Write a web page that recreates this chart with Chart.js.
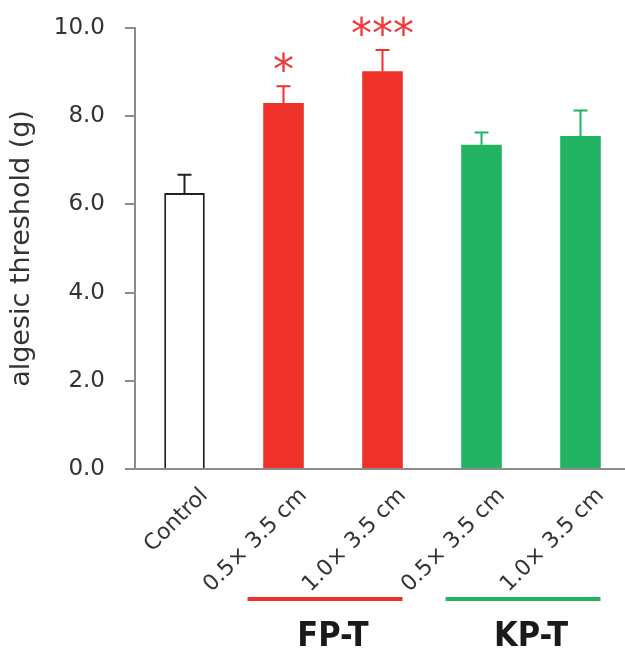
<!DOCTYPE html>
<html>
<head>
<meta charset="utf-8">
<script src="https://cdn.jsdelivr.net/npm/chart.js@4/dist/chart.umd.min.js"></script>
<style>
  html, body { margin: 0; padding: 0; background: #fff; overflow: hidden; }
  #wrap { width: 625px; height: 650px; overflow: hidden; }
</style>
</head>
<body>
<div id="wrap"><canvas id="chart" width="632" height="650"></canvas></div>
<script>
const categories = ['Control', '0.5\u00d7 3.5 cm', '1.0\u00d7 3.5 cm', '0.5\u00d7 3.5 cm', '1.0\u00d7 3.5 cm'];
const means = [6.26, 8.30, 9.02, 7.35, 7.55];
const errors = [0.41, 0.38, 0.48, 0.28, 0.58];
const stars = ['', '*', '***', '', ''];
const yTicks = [0, 2, 4, 6, 8, 10];

const groupNames = ['FP-T', 'KP-T'];
const groupFirst = [1, 3];
const groupLast = [2, 4];

const RED = '#ee3129';
const GREEN = '#22b363';
const barFill = ['#ffffff', RED, RED, GREEN, GREEN];
const barEdge = ['#222222', RED, RED, GREEN, GREEN];
const groupColors = [RED, GREEN];

const FONT = "'DejaVu Sans', sans-serif";

// error bars, significance stars and the group brackets under the axis
const extras = {
    id: 'extras',
    afterDatasetsDraw(chart) {
        const ctx = chart.ctx;
        const x = chart.scales.x;
        const y = chart.scales.y;
        ctx.save();
        for (let i = 0; i < means.length; i++) {
            const cx = x.getPixelForValue(i);
            const top = y.getPixelForValue(means[i]);
            const errTop = y.getPixelForValue(means[i] + errors[i]);
            ctx.strokeStyle = barEdge[i];
            ctx.lineWidth = 2;
            ctx.beginPath();
            ctx.moveTo(cx, top);
            ctx.lineTo(cx, errTop);
            ctx.moveTo(cx - 7, errTop);
            ctx.lineTo(cx + 7, errTop);
            ctx.stroke();

            if (stars[i]) {
                ctx.fillStyle = '#ef3b3b';
                ctx.font = '42px ' + FONT;
                ctx.textAlign = 'center';
                ctx.textBaseline = 'alphabetic';
                ctx.fillText(stars[i], cx, errTop - 2);
            }
        }

        for (let g = 0; g < groupNames.length; g++) {
            const a = x.getPixelForValue(groupFirst[g]);
            const b = x.getPixelForValue(groupLast[g]);
            ctx.strokeStyle = groupColors[g];
            ctx.lineWidth = 4;
            ctx.beginPath();
            ctx.moveTo(a - 36, 599);
            ctx.lineTo(b + 20, 599);
            ctx.stroke();

            ctx.fillStyle = '#1a1a1a';
            ctx.font = "bold 34px 'Liberation Sans Narrow', 'DejaVu Sans Condensed', sans-serif";
            ctx.textAlign = 'center';
            ctx.textBaseline = 'top';
            ctx.fillText(groupNames[g], (a + b) / 2, 620);
        }
        ctx.restore();
    }
};

new Chart(document.getElementById('chart'), {
    type: 'bar',
    data: {
        labels: categories,
        datasets: [{
            data: means,
            backgroundColor: barFill,
            borderColor: barEdge,
            borderWidth: barEdge.map((c, i) => i === 0 ? 2 : 0),
            barPercentage: 0.41,
            categoryPercentage: 1.0
        }]
    },
    options: {
        responsive: false,
        animation: false,
        layout: { padding: { top: 28, right: 2, left: 0, bottom: 0 } },
        plugins: {
            legend: { display: false },
            tooltip: { enabled: false }
        },
        scales: {
            x: {
                afterFit: s => { s.height = 181; },
                grid: { display: true, drawOnChartArea: false, drawTicks: false },
                border: { display: true, color: '#8c8c8c', width: 2 },
                ticks: {
                    autoSkip: false,
                    maxRotation: 45,
                    minRotation: 45,
                    labelOffset: 20,
                    padding: 14,
                    color: '#333333',
                    font: { family: FONT, size: 22 }
                }
            },
            y: {
                min: 0,
                max: 10,
                afterFit: s => { s.width = 135; s.paddingTop = 0; s.paddingBottom = 0; },
                afterBuildTicks: s => { s.ticks = yTicks.map(v => ({ value: v })); },
                grid: { drawOnChartArea: false, drawTicks: true, tickLength: 10, color: '#8c8c8c', lineWidth: 2 },
                border: { display: true, color: '#8c8c8c', width: 2 },
                ticks: {
                    padding: 20,
                    color: '#333333',
                    font: { family: FONT, size: 23 },
                    callback: v => v.toFixed(1)
                },
                title: {
                    display: true,
                    text: 'algesic threshold (g)',
                    color: '#333333',
                    font: { family: FONT, size: 27 },
                    padding: { top: 6, bottom: 0 }
                }
            }
        }
    },
    plugins: [extras]
});
</script>
</body>
</html>
